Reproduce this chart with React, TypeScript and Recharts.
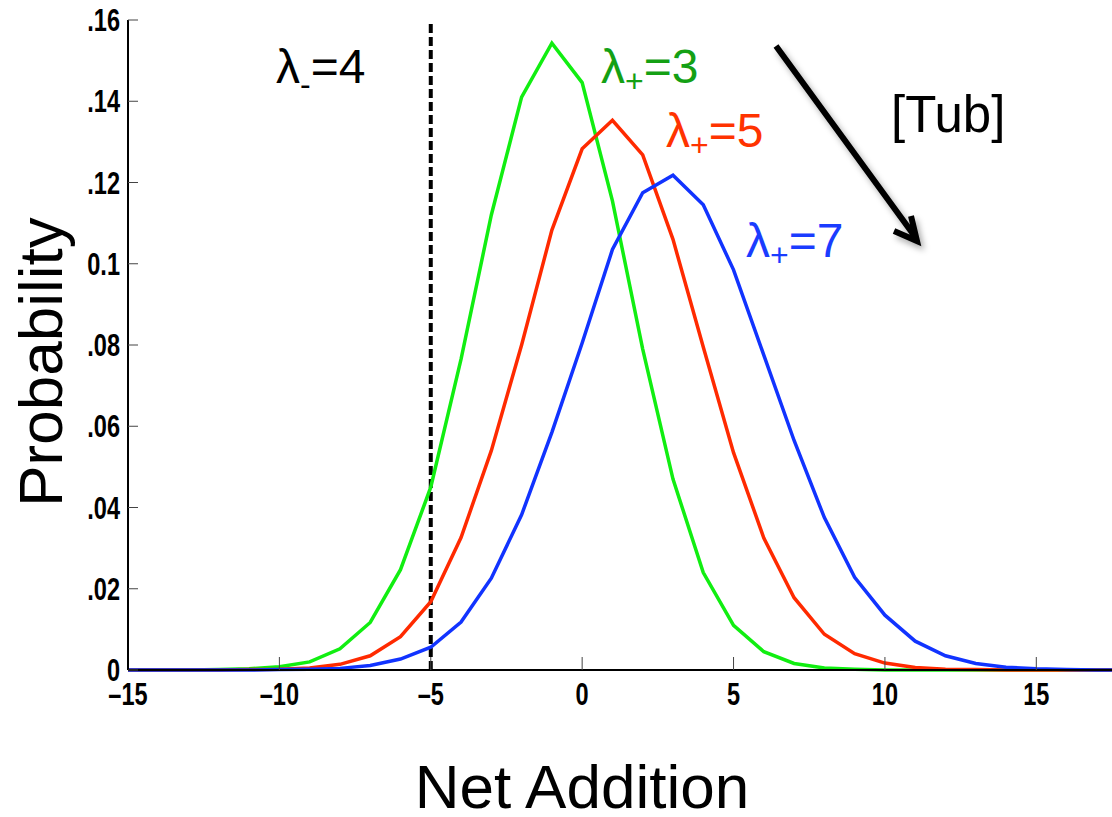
import {
  LineChart,
  Line,
  XAxis,
  YAxis,
  ReferenceLine,
  Label,
  Customized,
} from "recharts";

const netAddition = [
  -15, -14, -13, -12, -11, -10, -9, -8, -7, -6, -5, -4, -3, -2, -1, 0, 1, 2, 3,
  4, 5, 6, 7, 8, 9, 10, 11, 12, 13, 14, 15, 16, 17, 18,
];

// lambda+ = 3
const probGreen = [
  0, 0, 0, 0.0001, 0.0003, 0.0008, 0.002, 0.0052, 0.0117, 0.0247, 0.045,
  0.0765, 0.112, 0.141, 0.1543, 0.1446, 0.1155, 0.079, 0.047, 0.024, 0.011,
  0.0045, 0.0016, 0.0005, 0.0002, 0, 0, 0, 0, 0, 0, 0, 0, 0,
];

// lambda+ = 5
const probRed = [
  0, 0, 0, 0, 0.0001, 0.0002, 0.0005, 0.0014, 0.0035, 0.0082, 0.0168, 0.0326,
  0.054, 0.08, 0.1083, 0.1283, 0.1353, 0.1268, 0.106, 0.0795, 0.0535, 0.0325,
  0.0178, 0.0088, 0.004, 0.0017, 0.0006, 0.0002, 0.0001, 0, 0, 0, 0, 0,
];

// lambda+ = 7
const probBlue = [
  0, 0, 0, 0, 0, 0.0001, 0.0002, 0.0004, 0.0011, 0.0027, 0.0056, 0.0118,
  0.0226, 0.0382, 0.0585, 0.0805, 0.1035, 0.1175, 0.1218, 0.1145, 0.0985,
  0.0775, 0.0565, 0.0375, 0.0228, 0.0135, 0.0071, 0.0035, 0.0016, 0.0007,
  0.0003, 0.0001, 0, 0,
];

const xTicks = [-15, -10, -5, 0, 5, 10, 15];
const yTicks = [0, 0.02, 0.04, 0.06, 0.08, 0.1, 0.12, 0.14, 0.16];
const lambdaMinusAt = -5;

const data = netAddition.map((x, i) => ({
  x,
  g: probGreen[i],
  r: probRed[i],
  b: probBlue[i],
}));

const textFont = "'Liberation Sans', Arial, Helvetica, sans-serif";

const fmtY = (v: number) => {
  if (v === 0) return "0";
  if (Math.abs(v - 0.1) < 1e-9) return "0.1";
  return v.toFixed(2).replace(/^0/, "");
};
const fmtX = (v: number) => (v < 0 ? `\u2013${-v}` : `${v}`);

// bold condensed tick labels (squeezed Liberation Sans Bold)
function XTick(props: any) {
  const { x, y, payload } = props;
  return (
    <g transform={`translate(${x},${y})`}>
      <text
        transform="scale(0.76,1)"
        textAnchor="middle"
        dy="0.71em"
        fontSize={31}
        fontWeight="bold"
        fontFamily={textFont}
        fill="#000"
      >
        {fmtX(payload.value)}
      </text>
    </g>
  );
}

function YTick(props: any) {
  const { x, y, payload } = props;
  return (
    <g transform={`translate(${x},${y})`}>
      <text
        transform="scale(0.76,1)"
        textAnchor="end"
        dy="0.36em"
        fontSize={31}
        fontWeight="bold"
        fontFamily={textFont}
        fill="#000"
      >
        {fmtY(payload.value)}
      </text>
    </g>
  );
}

function Annotations() {
  const sub = (s: string, dy: number) => (
    <>
      <tspan fontSize={32} dy={dy}>
        {s}
      </tspan>
      <tspan dy={-dy}>=</tspan>
    </>
  );
  return (
    <g fontFamily={textFont}>
      <defs>
        <filter id="shadow" x="-20%" y="-20%" width="140%" height="140%">
          <feDropShadow dx="3" dy="4" stdDeviation="3" floodColor="#000" floodOpacity="0.35" />
        </filter>
      </defs>
      <text x={276} y={83} fontSize={48} fill="#000">
        λ{sub("-", 12)}4
      </text>
      <text x={601} y={83} fontSize={48} fill="#14a014">
        λ{sub("+", 9)}3
      </text>
      <text x={666} y={147} fontSize={48} fill="#ff3300">
        λ{sub("+", 9)}5
      </text>
      <text x={746} y={257} fontSize={48} fill="#1a3cff">
        λ{sub("+", 9)}7
      </text>
      <text x={891} y={132} fontSize={51} fill="#000">
        [Tub]
      </text>
      <path
        d="M776,46 L916,238 M911,216 L917,241 L894,231"
        stroke="#000"
        strokeWidth={6}
        fill="none"
        filter="url(#shadow)"
      />
    </g>
  );
}

export default function App() {
  return (
    <div style={{ position: "absolute", left: 0, top: 0, background: "#fff" }}>
      <LineChart
        width={1112}
        height={817}
        data={data}
        margin={{ top: 20, right: 0, bottom: 0, left: 0 }}
      >
        <XAxis
          dataKey="x"
          type="number"
          domain={[-15, 17.5]}
          allowDataOverflow
          ticks={xTicks}
          height={147}
          tickSize={-13}
          tickMargin={26}
          axisLine={{ stroke: "#000", strokeWidth: 2 }}
          tickLine={{ stroke: "#444", strokeWidth: 1 }}
          tick={<XTick />}
        >
          <Label
            content={() => (
              <text x={582} y={808} textAnchor="middle" fontSize={62} fontFamily={textFont} fill="#000">
                Net Addition
              </text>
            )}
          />
        </XAxis>
        <XAxis
          xAxisId="top"
          orientation="top"
          dataKey="x"
          type="number"
          domain={[-15, 17.5]}
          allowDataOverflow
          ticks={xTicks}
          height={0}
          tickSize={-12}
          tick={false}
          axisLine={{ stroke: "#000", strokeWidth: 2 }}
          tickLine={{ stroke: "#444", strokeWidth: 1 }}
        />
        <YAxis
          type="number"
          domain={[0, 0.16]}
          ticks={yTicks}
          width={128}
          tickSize={-10}
          tickMargin={18}
          axisLine={{ stroke: "#000", strokeWidth: 2 }}
          tickLine={{ stroke: "#444", strokeWidth: 1 }}
          tick={<YTick />}
        >
          <Label
            content={() => (
              <text
                x={62}
                y={362}
                transform="rotate(-90 62 362)"
                textAnchor="middle"
                fontSize={62}
                fontFamily={textFont}
                fill="#000"
              >
                Probability
              </text>
            )}
          />
        </YAxis>
        <ReferenceLine
          x={lambdaMinusAt}
          stroke="#000"
          strokeWidth={4}
          strokeDasharray="9 4"
        />
        <Line type="linear" dataKey="g" stroke="#11ee11" strokeWidth={3.5} dot={false} isAnimationActive={false} />
        <Line type="linear" dataKey="r" stroke="#ff2a00" strokeWidth={3.5} dot={false} isAnimationActive={false} />
        <Line type="linear" dataKey="b" stroke="#1133ff" strokeWidth={3.5} dot={false} isAnimationActive={false} />
        <Customized component={Annotations} />
      </LineChart>
    </div>
  );
}
